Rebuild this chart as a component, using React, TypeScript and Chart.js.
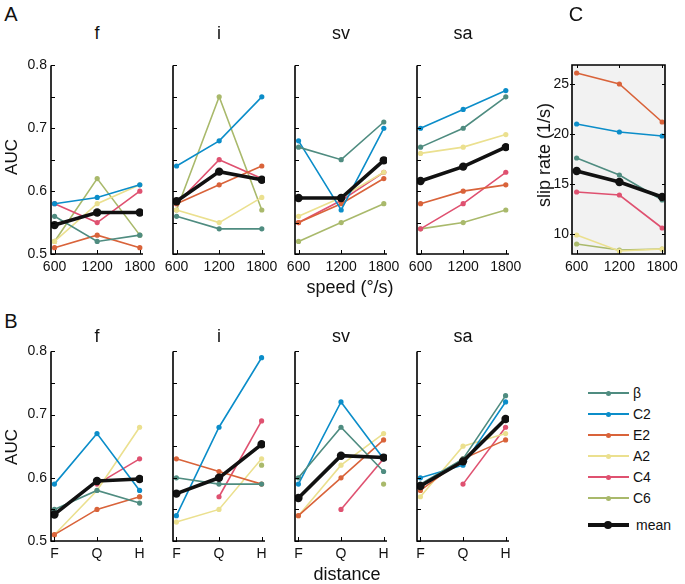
import React, { useEffect, useRef } from 'react';
import { Chart, registerables } from 'chart.js';

Chart.register(...registerables);

// ---------------- data ----------------
const speeds = [600, 1200, 1800];
const speedLabels = ['600', '1200', '1800'];
const distanceIdx = [0, 1, 2];
const distanceLabels = ['F', 'Q', 'H'];
const seriesNames = ['β', 'C2', 'E2', 'A2', 'C4', 'C6'];
const seriesColors = ['#4f8c80', '#0b8dc9', '#d9633a', '#ebe08f', '#df5170', '#a9b96b'];
const meanColor = '#111111';
const panelNames = ['f', 'i', 'sv', 'sa'];

const aucTicks = [0.5, 0.55, 0.6, 0.65, 0.7, 0.75, 0.8];
const aucTickLabels = ['0.5', '', '0.6', '', '0.7', '', '0.8'];
const slipTicks = [10, 15, 20, 25];
const slipTickLabels = ['10', '15', '20', '25'];

// A: AUC vs speed (series order: β, C2, E2, A2, C4, C6)
const speedF = [
  [0.56, 0.52, 0.53],
  [0.58, 0.59, 0.61],
  [0.51, 0.53, 0.51],
  [0.52, 0.58, 0.61],
  [0.58, 0.55, 0.60],
  [0.52, 0.62, 0.53],
];
const speedFMean = [0.546, 0.566, 0.566];

const speedI = [
  [0.56, 0.54, 0.54],
  [0.64, 0.68, 0.75],
  [0.58, 0.61, 0.64],
  [0.57, 0.55, 0.59],
  [0.58, 0.65, 0.62],
  [0.57, 0.75, 0.57],
];
const speedIMean = [0.584, 0.631, 0.618];

const speedSV = [
  [0.67, 0.65, 0.71],
  [0.68, 0.57, 0.70],
  [0.55, 0.58, 0.62],
  [0.56, 0.59, 0.63],
  [0.55, 0.585, 0.63],
  [0.52, 0.55, 0.58],
];
const speedSVMean = [0.589, 0.589, 0.649];

const speedSA = [
  [0.67, 0.70, 0.75],
  [0.70, 0.73, 0.76],
  [0.58, 0.60, 0.61],
  [0.66, 0.67, 0.69],
  [0.54, 0.58, 0.63],
  [0.54, 0.55, 0.57],
];
const speedSAMean = [0.616, 0.639, 0.67];

// B: AUC vs distance
const distF = [
  [0.55, 0.58, 0.56],
  [0.59, 0.67, 0.58],
  [0.51, 0.55, 0.57],
  [0.51, 0.58, 0.68],
  [null, 0.59, 0.63],
  [null, null, 0.57],
];
const distFMean = [0.542, 0.595, 0.598];

const distI = [
  [0.60, 0.59, 0.59],
  [0.54, 0.68, 0.79],
  [0.63, 0.61, 0.59],
  [0.53, 0.55, 0.63],
  [null, 0.57, 0.69],
  [null, null, 0.62],
];
const distIMean = [0.575, 0.60, 0.653];

const distSV = [
  [0.60, 0.68, 0.61],
  [0.59, 0.72, 0.63],
  [0.54, 0.60, 0.66],
  [0.54, 0.62, 0.67],
  [null, 0.55, 0.63],
  [null, null, 0.59],
];
const distSVMean = [0.568, 0.635, 0.632];

const distSA = [
  [0.59, 0.63, 0.73],
  [0.60, 0.62, 0.72],
  [0.58, 0.63, 0.66],
  [0.57, 0.65, 0.67],
  [null, 0.59, 0.68],
  [null, null, null],
];
const distSAMean = [0.587, 0.626, 0.693];

// C: slip rate vs speed
const slipRate = [
  [17.6, 15.9, 13.4],
  [21.0, 20.2, 19.8],
  [26.1, 25.0, 21.2],
  [9.9, 8.3, 8.5],
  [14.2, 13.9, 10.6],
  [9.0, 8.4, 8.5],
];
const slipRateMean = [16.3, 15.2, 13.7];

// ---------------- rendering ----------------
const FONT = '"Liberation Sans", Arial, Helvetica, sans-serif';
const PADL = 48;
const PADT = 12;
const PADR = 22;
const PADB = 30;

const axesDeco = {
  id: 'axesDeco',
  beforeDatasetsDraw(chart: any, _a: any, opts: any) {
    if (!opts.box) return;
    const { ctx, chartArea: ca } = chart;
    ctx.save();
    ctx.fillStyle = '#f2f2f2';
    ctx.fillRect(ca.left, ca.top, ca.right - ca.left, ca.bottom - ca.top);
    ctx.restore();
  },
  afterDraw(chart: any, _a: any, opts: any) {
    const { ctx, chartArea: ca, scales } = chart;
    ctx.save();
    ctx.strokeStyle = '#000';
    ctx.lineWidth = 1;
    const tl = 4;
    scales.y.ticks.forEach((t: any) => {
      const y = Math.round(scales.y.getPixelForValue(t.value)) + 0.5;
      ctx.beginPath();
      if (opts.box) {
        ctx.moveTo(ca.left - 2, y);
        ctx.lineTo(ca.left + 3, y);
        ctx.moveTo(ca.right - 3, y);
        ctx.lineTo(ca.right, y);
      } else {
        ctx.moveTo(ca.left, y);
        ctx.lineTo(ca.left + tl, y);
      }
      ctx.stroke();
    });
    scales.x.ticks.forEach((t: any) => {
      const x = Math.round(scales.x.getPixelForValue(t.value)) + 0.5;
      ctx.beginPath();
      ctx.moveTo(x, ca.bottom);
      ctx.lineTo(x, ca.bottom - tl);
      if (opts.box) {
        ctx.moveTo(x, ca.top);
        ctx.lineTo(x, ca.top + 3);
      }
      ctx.stroke();
    });
    ctx.lineWidth = 1.6;
    ctx.beginPath();
    if (opts.box) {
      ctx.rect(ca.left, ca.top, ca.right - ca.left, ca.bottom - ca.top);
    } else {
      ctx.moveTo(ca.left, ca.top);
      ctx.lineTo(ca.left, ca.bottom);
      ctx.lineTo(ca.right, ca.bottom);
    }
    ctx.stroke();
    ctx.restore();
  },
};

type PanelProps = {
  left: number;
  top: number;
  width: number;
  height: number;
  series: (number | null)[][];
  mean: number[];
  xValues: number[];
  xLabels: string[];
  xMin: number;
  xMax: number;
  yMin: number;
  yMax: number;
  yTicks: number[];
  yTickLabels: string[];
  showY: boolean;
  box?: boolean;
};

function Panel(p: PanelProps) {
  const ref = useRef<HTMLCanvasElement | null>(null);
  useEffect(() => {
    if (!ref.current) return;
    const datasets: any[] = p.series.map((vals, si) => ({
      label: seriesNames[si],
      data: vals.map((v, i) => ({ x: p.xValues[i], y: v })),
      borderColor: seriesColors[si],
      backgroundColor: seriesColors[si],
      pointBackgroundColor: seriesColors[si],
      pointBorderWidth: 0,
      pointRadius: 2.6,
      borderWidth: 1.6,
      order: 1,
      spanGaps: false,
    }));
    datasets.push({
      label: 'mean',
      data: p.mean.map((v, i) => ({ x: p.xValues[i], y: v })),
      borderColor: meanColor,
      backgroundColor: meanColor,
      pointBackgroundColor: meanColor,
      pointBorderWidth: 0,
      pointRadius: 4.2,
      borderWidth: 3.6,
      order: 0,
    });
    const chart = new Chart(ref.current, {
      type: 'line',
      data: { datasets },
      plugins: [axesDeco],
      options: {
        responsive: false,
        animation: false,
        devicePixelRatio: 1,
        layout: { padding: { left: 0, top: PADT, right: PADR, bottom: 0 } },
        plugins: {
          legend: { display: false },
          tooltip: { enabled: false },
          title: { display: false },
          axesDeco: { box: !!p.box },
        } as any,
        scales: {
          x: {
            type: 'linear',
            min: p.xMin,
            max: p.xMax,
            grid: { display: false, drawTicks: false },
            border: { display: false },
            afterBuildTicks: (s: any) => {
              s.ticks = p.xValues.map((v) => ({ value: v }));
            },
            afterFit: (s: any) => {
              s.height = PADB;
            },
            ticks: {
              autoSkip: false,
              maxRotation: 0,
              padding: 5,
              color: '#111',
              font: { size: 14, family: FONT },
              callback: (_v: any, i: number) => p.xLabels[i],
            },
          },
          y: {
            type: 'linear',
            min: p.yMin,
            max: p.yMax,
            grid: { display: false, drawTicks: false },
            border: { display: false },
            afterBuildTicks: (s: any) => {
              s.ticks = p.yTicks.map((v) => ({ value: v }));
            },
            afterFit: (s: any) => {
              s.width = PADL;
            },
            ticks: {
              autoSkip: false,
              padding: p.box ? 3 : 4,
              color: '#111',
              font: { size: 14, family: FONT },
              callback: (_v: any, i: number) => (p.showY ? p.yTickLabels[i] : ''),
            },
          },
        },
      } as any,
    });
    return () => chart.destroy();
  }, []);
  const cw = p.width + PADL + PADR;
  const ch = p.height + PADT + PADB;
  return (
    <canvas
      ref={ref}
      width={cw}
      height={ch}
      style={{
        position: 'absolute',
        left: p.left - PADL,
        top: p.top - PADT,
        width: cw,
        height: ch,
      }}
    />
  );
}

function Text(props: {
  x: number;
  y: number;
  size: number;
  children: React.ReactNode;
  rotate?: boolean;
  weight?: number;
  color?: string;
}) {
  return (
    <div
      style={{
        position: 'absolute',
        left: props.x,
        top: props.y,
        transform: `translate(-50%, -50%)${props.rotate ? ' rotate(-90deg)' : ''}`,
        fontSize: props.size,
        lineHeight: `${props.size}px`,
        fontFamily: FONT,
        fontWeight: props.weight ?? 400,
        color: props.color ?? '#111',
        whiteSpace: 'nowrap',
      }}
    >
      {props.children}
    </div>
  );
}

const colLefts = [51, 173, 295, 417];
const colWidth = 92;

export default function App() {
  const speedSets = [speedF, speedI, speedSV, speedSA];
  const speedMeans = [speedFMean, speedIMean, speedSVMean, speedSAMean];
  const distSets = [distF, distI, distSV, distSA];
  const distMeans = [distFMean, distIMean, distSVMean, distSAMean];

  const legendRows = [393, 414, 435, 456, 477, 498];

  return (
    <div
      style={{
        position: 'absolute',
        left: 0,
        top: 0,
        width: 685,
        height: 584,
        background: '#fff',
        overflow: 'hidden',
      }}
    >
      {panelNames.map((name, k) => (
        <Panel
          key={'a' + k}
          left={colLefts[k]}
          top={65}
          width={colWidth}
          height={189}
          series={speedSets[k]}
          mean={speedMeans[k]}
          xValues={speeds}
          xLabels={speedLabels}
          xMin={550}
          xMax={1845}
          yMin={0.5}
          yMax={0.8}
          yTicks={aucTicks}
          yTickLabels={aucTickLabels}
          showY={k === 0}
        />
      ))}
      {panelNames.map((name, k) => (
        <Panel
          key={'b' + k}
          left={colLefts[k]}
          top={351}
          width={colWidth}
          height={190}
          series={distSets[k]}
          mean={distMeans[k]}
          xValues={distanceIdx}
          xLabels={distanceLabels}
          xMin={-0.08}
          xMax={2.08}
          yMin={0.5}
          yMax={0.8}
          yTicks={aucTicks}
          yTickLabels={aucTickLabels}
          showY={k === 0}
        />
      ))}
      <Panel
        left={572}
        top={65}
        width={93}
        height={189}
        series={slipRate}
        mean={slipRateMean}
        xValues={speeds}
        xLabels={speedLabels}
        xMin={535}
        xMax={1840}
        yMin={8}
        yMax={26.9}
        yTicks={slipTicks}
        yTickLabels={slipTickLabels}
        showY={true}
        box={true}
      />

      {/* panel letters */}
      <Text x={11} y={14} size={20} weight={300}>A</Text>
      <Text x={11} y={321} size={20} weight={300}>B</Text>
      <Text x={576} y={14} size={20} weight={300}>C</Text>

      {/* column titles */}
      {panelNames.map((name, k) => (
        <Text key={'ta' + k} x={colLefts[k] + colWidth / 2} y={33} size={18}>
          {name}
        </Text>
      ))}
      {panelNames.map((name, k) => (
        <Text key={'tb' + k} x={colLefts[k] + colWidth / 2} y={336} size={18}>
          {name}
        </Text>
      ))}

      {/* axis titles */}
      <Text x={11} y={157} size={17} rotate>AUC</Text>
      <Text x={11} y={447} size={17} rotate>AUC</Text>
      <Text x={350} y={287} size={18}>speed (°/s)</Text>
      <Text x={347} y={574} size={18}>distance</Text>
      <Text x={544} y={155} size={18} rotate>slip rate (1/s)</Text>

      {/* legend */}
      {seriesNames.map((n, i) => (
        <React.Fragment key={'lg' + i}>
          <div
            style={{
              position: 'absolute',
              left: 588,
              top: legendRows[i] - 1,
              width: 41,
              height: 2,
              background: seriesColors[i],
            }}
          />
          <div
            style={{
              position: 'absolute',
              left: 605.5,
              top: legendRows[i] - 2.5,
              width: 5,
              height: 5,
              borderRadius: '50%',
              background: seriesColors[i],
            }}
          />
          <div
            style={{
              position: 'absolute',
              left: 633,
              top: legendRows[i] - 9,
              fontSize: 14,
              lineHeight: '18px',
              fontFamily: FONT,
              color: '#111',
            }}
          >
            {n}
          </div>
        </React.Fragment>
      ))}
      <div
        style={{
          position: 'absolute',
          left: 588,
          top: 525 - 2,
          width: 41,
          height: 4,
          background: meanColor,
        }}
      />
      <div
        style={{
          position: 'absolute',
          left: 604,
          top: 525 - 4,
          width: 8,
          height: 8,
          borderRadius: '50%',
          background: meanColor,
        }}
      />
      <div
        style={{
          position: 'absolute',
          left: 636,
          top: 525 - 9,
          fontSize: 14,
          lineHeight: '18px',
          fontFamily: FONT,
          color: '#111',
        }}
      >
        mean
      </div>
    </div>
  );
}
